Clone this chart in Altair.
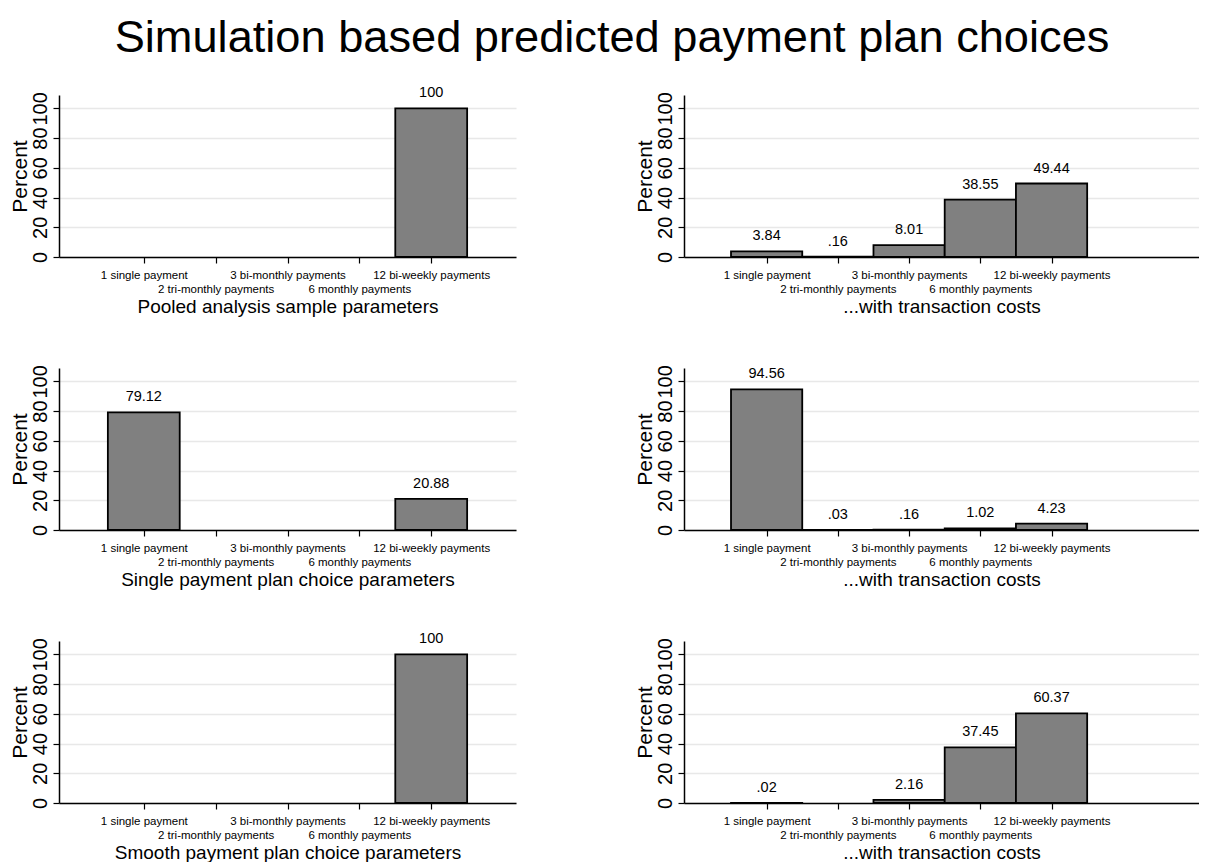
import altair as alt
import pandas as pd

categories = ["1 single payment", "2 tri-monthly payments", "3 bi-monthly payments",
              "6 monthly payments", "12 bi-weekly payments"]
positions = [1, 2, 3, 4, 5]

pooled = [None, None, None, None, 100]
pooled_tc = [3.84, 0.16, 8.01, 38.55, 49.44]
single = [79.12, None, None, None, 20.88]
single_tc = [94.56, 0.03, 0.16, 1.02, 4.23]
smooth = [None, None, None, None, 100]
smooth_tc = [0.02, None, 2.16, 37.45, 60.37]

left_titles = ["Pooled analysis sample parameters",
               "Single payment plan choice parameters",
               "Smooth payment plan choice parameters"]
right_title = "...with transaction costs"

FONT = "Liberation Sans"


def fmt(v):
    s = f"{v:g}"
    return s[1:] if s.startswith("0.") else s


# label expression: odd categories on first line, even on second line
parts = []
for i, (p, c) in enumerate(zip(positions, categories)):
    if i % 2 == 0:
        parts.append(f"datum.value == {p} ? ['{c}', ' ']")
    else:
        parts.append(f"datum.value == {p} ? [' ', '{c}']")
label_expr = " : ".join(parts) + " : ''"


def panel(values, xtitle, width, xdomain):
    rows = [{"pos": p, "value": v, "label": fmt(v)}
            for p, v in zip(positions, values) if v is not None]
    df = pd.DataFrame(rows)
    xaxis = alt.Axis(values=positions, labelExpr=label_expr, title=xtitle,
                     grid=False, labelOverlap=False, labelFlush=False, labelBound=False,
                     labelAngle=0, labelAlign="center", labelBaseline="top",
                     labelFontSize=11.5, labelLineHeight=14, labelPadding=6,
                     tickSize=6, tickColor="black", tickWidth=1.2,
                     domainColor="black", domainWidth=1.5,
                     titleFontSize=19, titleFontWeight="normal", titlePadding=3,
                     titleColor="black", labelColor="black")
    yaxis = alt.Axis(values=[0, 20, 40, 60, 80, 100], title="Percent",
                     grid=True, gridColor="#e8e8e8", gridWidth=1.5,
                     labelAngle=270, labelAlign="center", labelBaseline="alphabetic",
                     labelFontSize=20, labelPadding=7, labelOverlap=False,
                     labelFlush=False, labelBound=False,
                     tickSize=6, tickColor="black", tickWidth=1.2,
                     domainColor="black", domainWidth=1.5,
                     titleFontSize=21, titleFontWeight="normal", titlePadding=0,
                     titleColor="black", labelColor="black")
    xscale = alt.Scale(domain=xdomain, nice=False, zero=False)
    yscale = alt.Scale(domain=[0, 109], nice=False)
    base = alt.Chart(df).transform_calculate(lo="datum.pos - 0.5", hi="datum.pos + 0.5")
    bars = base.mark_rect(fill="#808080", stroke="black", strokeWidth=1.8).encode(
        x=alt.X("lo:Q", scale=xscale, axis=xaxis),
        x2="hi:Q",
        y=alt.Y("value:Q", scale=yscale, axis=yaxis),
        y2=alt.datum(0),
    )
    text = base.mark_text(fontSize=14.5, dy=-11, baseline="alphabetic", color="black").encode(
        x=alt.X("pos:Q", scale=xscale, axis=xaxis),
        y=alt.Y("value:Q", scale=yscale, axis=yaxis),
        text="label:N",
    )
    return alt.layer(bars, text).properties(width=width, height=162)


LEFT_W = 457
RIGHT_W = 515
left_dom = [-0.18, 6.18]
right_dom = [-0.16, 7.07]

panels = []
for lt, lv, rv in zip(left_titles, [pooled, single, smooth], [pooled_tc, single_tc, smooth_tc]):
    panels.append(panel(lv, lt, LEFT_W, left_dom))
    panels.append(panel(rv, right_title, RIGHT_W, right_dom))

chart = alt.concat(*panels, columns=2, spacing={"row": 111, "column": 168},
                   bounds="flush").properties(
    title=alt.TitleParams("Simulation based predicted payment plan choices",
                          fontSize=45.2, font=FONT, fontWeight="normal", anchor="middle",
                          baseline="alphabetic", offset=-12, dx=8, color="black"),
    padding={"top": 8, "left": 1, "right": 0, "bottom": 0},
).configure(font=FONT).configure_view(strokeWidth=0).configure_text(font=FONT)

chart.save("out.html", embed_options={"renderer": "svg", "actions": False})
